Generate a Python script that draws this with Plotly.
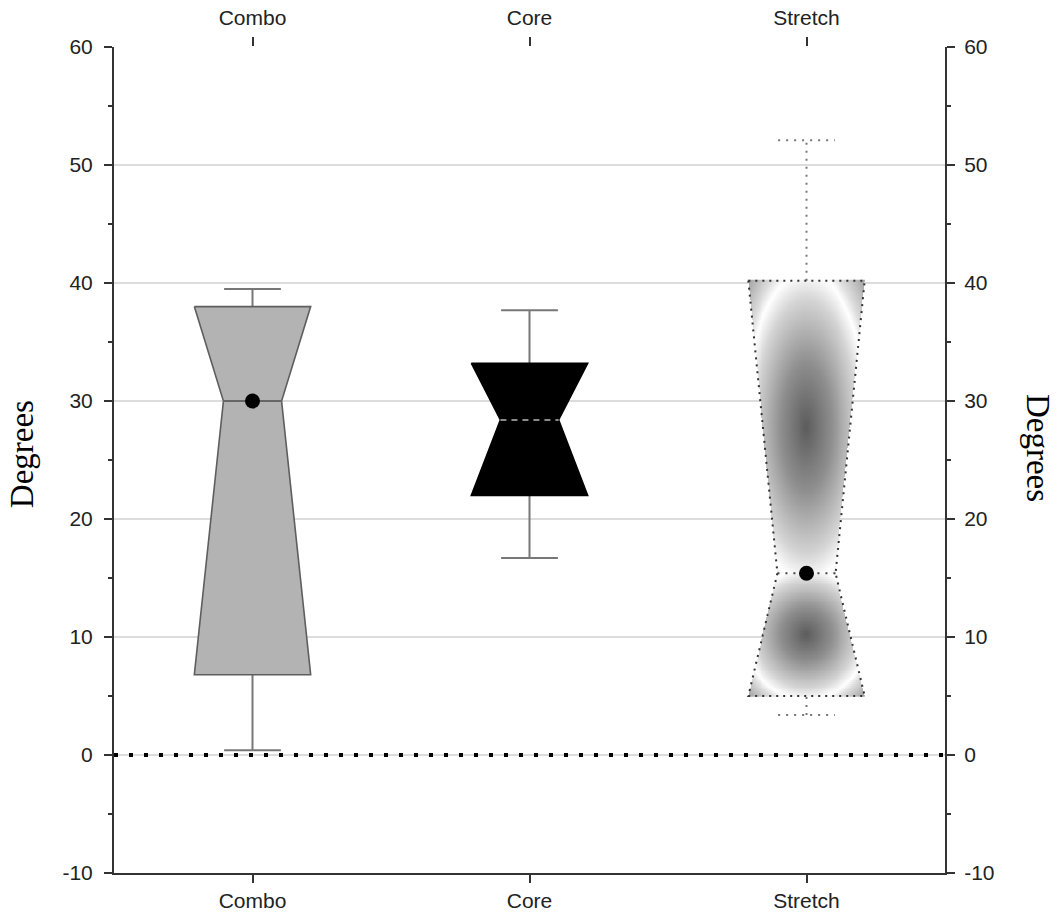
import numpy as np
import plotly.graph_objects as go

# ---------------- data ----------------
categories = ["Combo", "Core", "Stretch"]
whisker_low = [0.4, 16.7, 3.4]
q1 = [6.8, 22.0, 5.0]
median = [30.0, 28.4, 15.4]
q3 = [38.0, 33.2, 40.2]
whisker_high = [39.5, 37.7, 52.1]
mean_vals = [30.0, None, 15.4]

y_ticks = [-10, 0, 10, 20, 30, 40, 50, 60]
y_tick_labels = ["-10", "0", "10", "20", "30", "40", "50", "60"]

# ---------------- style ----------------
BOX_HALF = 0.21      # half box width (x units)
NOTCH_HALF = 0.105   # half width at the median
CAP_HALF = 0.1025    # half whisker-cap width
fill_colors = ["#b3b3b3", "#000000", None]
edge_colors = ["#5e5e5e", "#000000", "#333333"]
edge_dash = ["solid", "solid", "2px,5px"]
whisker_colors = ["#777777", "#777777", "#777777"]
whisker_dash = ["solid", "solid", "2px,6px"]
median_colors = ["#666666", "#8a8a8a", "#444444"]
median_dash = ["solid", "6px,5px", "2px,6px"]

SANS = "Liberation Sans, Arial, sans-serif"
SERIF = "Liberation Serif, Times New Roman, serif"

fig = go.Figure()

positions = list(range(len(categories)))

# gradient fill for the "Stretch" box (heatmap limited to the notch shape)
gi = 2
pos = positions[gi]
nx, ny = 120, 230
xs = np.linspace(pos - BOX_HALF, pos + BOX_HALF, nx)
ys = np.linspace(q1[gi], q3[gi], ny)
X, Y = np.meshgrid(xs, ys)
upper = Y >= median[gi]
frac = np.where(upper, (Y - median[gi]) / (q3[gi] - median[gi]),
                (median[gi] - Y) / (median[gi] - q1[gi]))
halfw = NOTCH_HALF + (BOX_HALF - NOTCH_HALF) * frac
inside = np.abs(X - pos) <= halfw
cy = np.where(upper, (q3[gi] + median[gi]) / 2, (q1[gi] + median[gi]) / 2)
hh = np.where(upper, (q3[gi] - median[gi]) / 2, (median[gi] - q1[gi]) / 2)
u = (X - pos) / BOX_HALF
v = (Y - cy) / hh
d = np.sqrt(u ** 2 + v ** 2)
Z = np.where(inside, d, np.nan)
fig.add_trace(go.Heatmap(
    x=xs, y=ys, z=Z, zmin=0, zmax=1.45, showscale=False, hoverinfo="skip",
    colorscale=[[0, "#5c5c5c"], [0.3, "#8e8e8e"], [0.6, "#d4d4d4"],
                [0.73, "#ffffff"], [0.8, "#dedede"], [1, "#9a9a9a"]],
))

for i, cat in enumerate(categories):
    p = positions[i]
    # whisker stems
    fig.add_trace(go.Scatter(
        x=[p, p, None, p, p], y=[whisker_low[i], q1[i], None, q3[i], whisker_high[i]],
        mode="lines", line=dict(color=whisker_colors[i], width=2, dash=whisker_dash[i]),
        hoverinfo="skip", showlegend=False))
    # caps
    fig.add_trace(go.Scatter(
        x=[p - CAP_HALF, p + CAP_HALF, None, p - CAP_HALF, p + CAP_HALF],
        y=[whisker_low[i], whisker_low[i], None, whisker_high[i], whisker_high[i]],
        mode="lines", line=dict(color=whisker_colors[i], width=2, dash=whisker_dash[i]),
        hoverinfo="skip", showlegend=False))
    # notched box
    bx = [p - BOX_HALF, p + BOX_HALF, p + NOTCH_HALF, p + BOX_HALF,
          p - BOX_HALF, p - NOTCH_HALF, p - BOX_HALF]
    by = [q3[i], q3[i], median[i], q1[i], q1[i], median[i], q3[i]]
    fig.add_trace(go.Scatter(
        x=bx, y=by, mode="lines",
        fill="toself" if fill_colors[i] else "none",
        fillcolor=fill_colors[i] if fill_colors[i] else "rgba(0,0,0,0)",
        line=dict(color=edge_colors[i], width=1.6 if i != 2 else 2, dash=edge_dash[i]),
        hoverinfo="skip", showlegend=False))
    # median line
    fig.add_trace(go.Scatter(
        x=[p - NOTCH_HALF, p + NOTCH_HALF], y=[median[i], median[i]], mode="lines",
        line=dict(color=median_colors[i], width=2, dash=median_dash[i]),
        hoverinfo="skip", showlegend=False))

# means
mx = [positions[i] for i in range(len(categories)) if mean_vals[i] is not None]
my = [m for m in mean_vals if m is not None]
fig.add_trace(go.Scatter(x=mx, y=my, mode="markers",
                         marker=dict(color="black", size=15, line=dict(width=0)),
                         hoverinfo="skip", showlegend=False))

# companion trace for top/right axes
fig.add_trace(go.Scatter(x=positions, y=[None] * len(positions), xaxis="x2", yaxis="y2",
                         mode="markers", hoverinfo="skip", showlegend=False))

axis_font = dict(family=SANS, size=21, color="#222222")
yaxis_common = dict(
    range=[-10, 60], tickvals=y_ticks, ticktext=y_tick_labels,
    ticks="outside", ticklen=8, tickwidth=2, automargin=False,
    tickcolor="#333333", showline=True, linecolor="#333333", linewidth=2,
    zeroline=False, tickfont=axis_font,
    minor=dict(ticks="outside", ticklen=4, tickwidth=2, tickcolor="#333333",
               dtick=5, tick0=5, showgrid=False),
)

fig.update_layout(
    width=1063, height=920,
    margin=dict(l=114, r=118, t=47, b=47),
    paper_bgcolor="white", plot_bgcolor="white",
    showlegend=False,
    xaxis=dict(range=[-0.5, 2.5], tickvals=positions, ticktext=categories,
               ticks="outside", ticklen=8, tickwidth=2, tickcolor="#333333",
               showline=True, linecolor="#333333", linewidth=2, showgrid=False,
               zeroline=False, tickfont=axis_font, ticklabelstandoff=0,
               automargin=False),
    xaxis2=dict(range=[-0.5, 2.5], tickvals=positions, ticktext=categories,
                overlaying="x", side="top", ticks="outside", ticklen=9, tickwidth=2,
                tickcolor="#333333", showline=False, showgrid=False, zeroline=False,
                tickfont=axis_font, ticklabelstandoff=4, automargin=False),
    yaxis=dict(**yaxis_common, showgrid=True, gridcolor="#dcdcdc", gridwidth=1.6,
               ticklabelstandoff=7),
    yaxis2=dict(**yaxis_common, overlaying="y", side="right", showgrid=False,
                ticklabelstandoff=5),
    annotations=[
        dict(text="Degrees", xref="paper", yref="paper", x=-0.1108, y=0.507,
             xanchor="center", yanchor="middle", textangle=-90, showarrow=False,
             font=dict(family=SERIF, size=33, color="black")),
        dict(text="Degrees", xref="paper", yref="paper", x=1.1113, y=0.514,
             xanchor="center", yanchor="middle", textangle=90, showarrow=False,
             font=dict(family=SERIF, size=33, color="black")),
    ],
    shapes=[
        dict(type="line", xref="paper", yref="y", x0=0, x1=1, y0=0, y1=0,
             line=dict(color="black", width=4, dash="4px,11px"), layer="above"),
    ],
)

fig.write_html("out.html")
